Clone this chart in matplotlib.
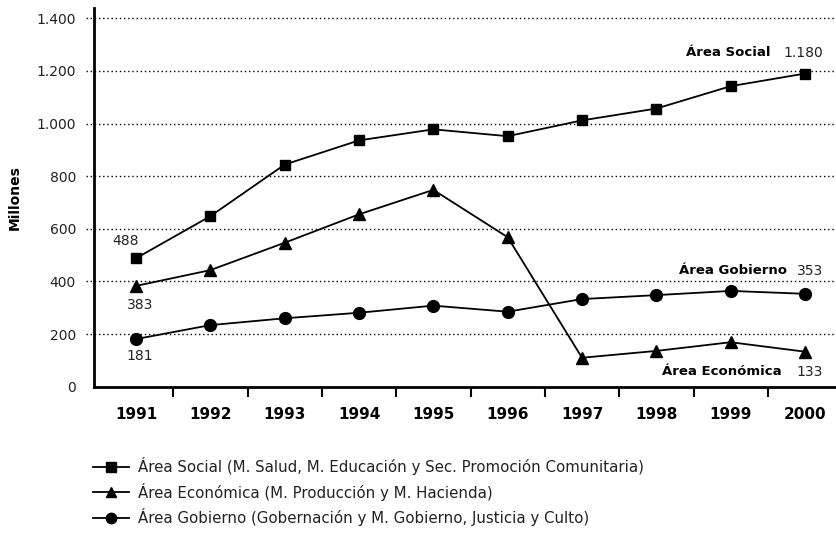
import matplotlib
matplotlib.use('Agg')
from matplotlib import pyplot as plt
from matplotlib.lines import Line2D

years = ['1991', '1992', '1993', '1994', '1995', '1996', '1997', '1998', '1999', '2000']
social = [488, 648, 844, 936, 978, 952, 1012, 1057, 1142, 1190]
economica = [383, 443, 547, 655, 748, 568, 110, 136, 169, 133]
gobierno = [181, 234, 260, 281, 308, 285, 333, 348, 364, 353]

yticks = [0, 200, 400, 600, 800, 1000, 1200, 1400]

series_names = ['Área Social', 'Área Económica', 'Área Gobierno']
legend_labels = ['Área Social (M. Salud, M. Educación y Sec. Promoción Comunitaria)',
                 'Área Económica (M. Producción y M. Hacienda)',
                 'Área Gobierno (Gobernación y M. Gobierno, Justicia y Culto)']
end_labels = ['1.180', '133', '353']
start_labels = ['488', '383', '181']

txt = '#222222'

fig = plt.figure(figsize=(8.37, 5.35), dpi=100)
ax = fig.add_axes([0.1123, 0.2772, 0.8877, 0.7073])

x = list(range(len(years)))
l1, = ax.plot(x, social, color='k', lw=1.3, marker='s', ms=7.5, clip_on=False, zorder=3)
l2, = ax.plot(x, economica, color='k', lw=1.3, marker='^', ms=9, clip_on=False, zorder=3)
l3, = ax.plot(x, gobierno, color='k', lw=1.3, marker='o', ms=8.5, clip_on=False, zorder=3)

ax.set_xlim(-0.565, 9.43)
ax.set_ylim(0, 1438)

# dotted gridlines that poke out left of the axis
ax.hlines(yticks[1:], -0.011, 1, transform=ax.get_yaxis_transform(),
          colors='k', linestyles=(0, (1, 2)), lw=1, clip_on=False, zorder=1)

for s in ['top', 'right']:
    ax.spines[s].set_visible(False)
ax.spines['left'].set_linewidth(2)
ax.spines['bottom'].set_linewidth(2)

ax.set_yticks(yticks)
ax.set_yticklabels([f'{v:,}'.replace(',', '.') for v in yticks], fontsize=10, color=txt)
ax.tick_params(axis='y', length=0, pad=13)

ax.set_xticks(x)
ax.set_xticklabels(years, fontsize=11, fontweight='bold', color='k')
ax.set_xticks([i + 0.5 for i in x[:-1]], minor=True)
ax.tick_params(axis='x', which='major', length=0, pad=14.5)
ax.tick_params(axis='x', which='minor', length=7, width=1.5, direction='out')

ax.set_ylabel('Millones', fontsize=10, fontweight='bold', color='k')
ax.yaxis.set_label_coords(-0.097, 0.5)

# labels at the end of each series
last = len(years) - 1
ends = [(social[last], -35, 21), (economica[last], -23, -20), (gobierno[last], -18, 23)]
for name, val, (yv, dx, dy) in zip(series_names, end_labels, ends):
    ax.annotate(name, (last, yv), xytext=(dx, dy), textcoords='offset pixels',
                ha='right', va='center', fontsize=9.5, fontweight='bold', color='k')
    ax.annotate(val, (last, yv), xytext=(18, dy), textcoords='offset pixels',
                ha='right', va='center', fontsize=10, color=txt)

# labels at the start
starts = [(social[0], -10, 17), (economica[0], 4, -19), (gobierno[0], 4, -17)]
for val, (yv, dx, dy) in zip(start_labels, starts):
    ax.annotate(val, (0, yv), xytext=(dx, dy), textcoords='offset pixels',
                ha='center', va='center', fontsize=10, color=txt)

handles = [Line2D([], [], color='k', lw=1.3, marker=m, ms=s) for m, s in
           [('s', 6.5), ('^', 7.5), ('o', 7.5)]]
fig.legend(handles, legend_labels, loc='upper left', bbox_to_anchor=(0.111, 0.146),
           frameon=False, fontsize=10.8, handlelength=2.4, handletextpad=0.6,
           labelspacing=0.52, borderpad=0, borderaxespad=0, labelcolor=txt)

plt.savefig('out.png', dpi=100)
